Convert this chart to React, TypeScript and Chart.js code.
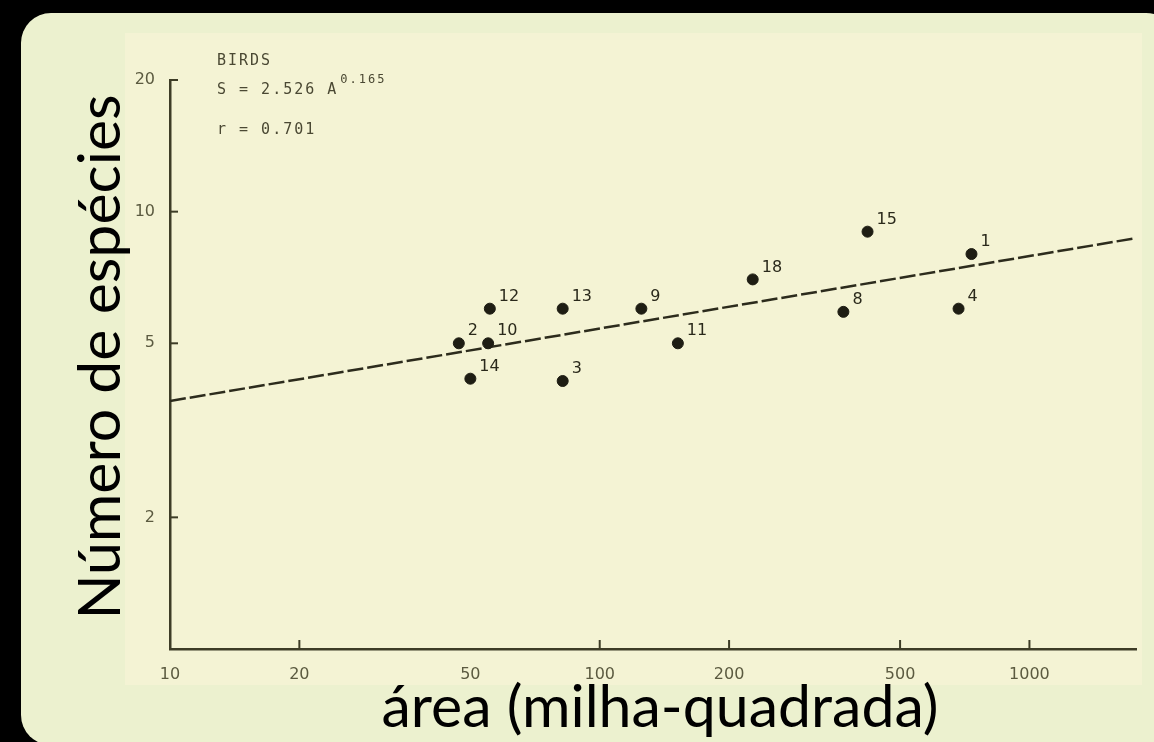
import React, { useEffect, useRef } from "react";
import { Chart, registerables } from "chart.js";

Chart.register(...registerables);

// ---- data ----
const islandLabels = ["2", "10", "12", "14", "13", "3", "9", "11", "18", "8", "15", "4", "1"];
const areaSqMi = [47, 55, 55.5, 50, 82, 82, 125, 152, 227, 369, 420, 684, 733];
const speciesCount = [5, 5, 6, 4.15, 6, 4.1, 6, 5, 7, 5.9, 9, 6, 8];

const fitArea = [10, 1770];
const fitSpecies = [3.69, 8.7];

const xTickLabels = [10, 20, 50, 100, 200, 500, 1000];
const xTickMarks = [20, 100, 200, 500, 1000];
const yTickLabels = [2, 5, 10, 20];

const annotationLines = ["BIRDS", "S = 2.526 A", "r = 0.701"];
const annotationExponent = "0.165";

const xTitle = "área (milha-quadrada)";
const yTitle = "Número de espécies";

const W = 1154;
const H = 742;
const INK = "#3d3c26";

function roundRect(ctx: CanvasRenderingContext2D, x: number, y: number, w: number, h: number, r: number) {
  ctx.beginPath();
  ctx.moveTo(x + r, y);
  ctx.lineTo(x + w - r, y);
  ctx.arcTo(x + w, y, x + w, y + r, r);
  ctx.lineTo(x + w, y + h - r);
  ctx.arcTo(x + w, y + h, x + w - r, y + h, r);
  ctx.lineTo(x + r, y + h);
  ctx.arcTo(x, y + h, x, y + h - r, r);
  ctx.lineTo(x, y + r);
  ctx.arcTo(x, y, x + r, y, r);
  ctx.closePath();
}

const backgroundPlugin = {
  id: "slideBackground",
  beforeDraw(chart: any) {
    const ctx = chart.ctx as CanvasRenderingContext2D;
    ctx.save();
    ctx.fillStyle = "#000000";
    ctx.fillRect(0, 0, W, H);
    ctx.fillStyle = "#ecf1cf";
    roundRect(ctx, 21, 13, W + 22 - 21, H + 3 - 13, 30);
    ctx.fill();
    ctx.fillStyle = "#f4f3d4";
    ctx.fillRect(125, 33, 1142 - 125, 685 - 33);
    ctx.restore();
  },
};

const decorPlugin = {
  id: "decor",
  afterDraw(chart: any) {
    const ctx = chart.ctx as CanvasRenderingContext2D;
    const xs = chart.scales.x;
    const ys = chart.scales.y;
    const area = chart.chartArea;
    ctx.save();
    // inward tick marks
    ctx.strokeStyle = INK;
    ctx.lineWidth = 2;
    yTickLabels.forEach((v) => {
      const py = ys.getPixelForValue(v);
      ctx.beginPath();
      ctx.moveTo(area.left, py);
      ctx.lineTo(area.left + 8, py);
      ctx.stroke();
    });
    xTickMarks.forEach((v) => {
      const px = xs.getPixelForValue(v);
      ctx.beginPath();
      ctx.moveTo(px, area.bottom);
      ctx.lineTo(px, area.bottom - 9);
      ctx.stroke();
    });

    // point labels
    const meta = chart.getDatasetMeta(0);
    ctx.fillStyle = "#2a291b";
    ctx.font = "16px 'DejaVu Sans'";
    ctx.textAlign = "left";
    ctx.textBaseline = "middle";
    meta.data.forEach((pt: any, i: number) => {
      ctx.fillText(islandLabels[i], pt.x + 9, pt.y - 12);
    });

    // annotation text block
    ctx.fillStyle = "#4a4833";
    ctx.font = "15px 'DejaVu Sans Mono'";
    (ctx as any).letterSpacing = "2px";
    ctx.textBaseline = "middle";
    const ax = 217;
    ctx.fillText(annotationLines[0], ax, 61);
    ctx.fillText(annotationLines[1], ax, 90);
    const w1 = ctx.measureText(annotationLines[1]).width;
    ctx.font = "12px 'DejaVu Sans Mono'";
    ctx.fillText(annotationExponent, ax + w1 + 2, 80);
    ctx.font = "15px 'DejaVu Sans Mono'";
    ctx.fillText(annotationLines[2], ax, 130);
    (ctx as any).letterSpacing = "0px";

    // axis titles
    ctx.fillStyle = "#000000";
    ctx.font = "59px Lato";
    ctx.textAlign = "center";
    ctx.textBaseline = "alphabetic";
    ctx.fillText(xTitle, 660, 727);
    ctx.save();
    ctx.translate(120, 357);
    ctx.rotate(-Math.PI / 2);
    ctx.fillText(yTitle, 0, 0);
    ctx.restore();

    ctx.restore();
  },
};

export default function App() {
  const ref = useRef<HTMLCanvasElement | null>(null);

  useEffect(() => {
    document.body.style.margin = "0";
    document.body.style.background = "#000";
    const canvas = ref.current;
    if (!canvas) return;
    const tickFont = { family: "'DejaVu Sans'", size: 16 };
    const chart = new Chart(canvas, {
      type: "scatter",
      data: {
        datasets: [
          {
            label: "islands",
            data: areaSqMi.map((a, i) => ({ x: a, y: speciesCount[i] })),
            backgroundColor: "#1e1d13",
            borderColor: "#1e1d13",
            pointRadius: 5.5,
            pointHoverRadius: 5.5,
            showLine: false,
          },
          {
            label: "fit",
            data: fitArea.map((a, i) => ({ x: a, y: fitSpecies[i] })),
            borderColor: "#2c2b1c",
            borderWidth: 2.5,
            borderDash: [16, 4],
            pointRadius: 0,
            showLine: true,
            fill: false,
          },
        ],
      },
      options: {
        responsive: false,
        animation: false,
        devicePixelRatio: 1,
        layout: { padding: { left: 0, top: 80, right: W - 1136, bottom: 0 } },
        plugins: { legend: { display: false }, tooltip: { enabled: false }, title: { display: false } },
        scales: {
          x: {
            type: "logarithmic",
            min: 10,
            max: 1770,
            grid: { display: false, drawTicks: false },
            border: { display: true, color: INK, width: 2.5 },
            ticks: {
              padding: 16,
              color: "#5b5a40",
              font: tickFont,
              maxRotation: 0,
              autoSkip: false,
              callback: (v: any) => String(v),
            },
            afterBuildTicks: (scale: any) => {
              scale.ticks = xTickLabels.map((v) => ({ value: v }));
            },
            afterFit: (scale: any) => {
              scale.height = H - 649;
            },
          },
          y: {
            type: "logarithmic",
            min: 1,
            max: 20,
            grid: { display: false, drawTicks: false },
            border: { display: true, color: INK, width: 2.5 },
            ticks: {
              padding: 15,
              color: "#5b5a40",
              font: tickFont,
              autoSkip: false,
              callback: (v: any) => String(v),
            },
            afterBuildTicks: (scale: any) => {
              scale.ticks = yTickLabels.map((v) => ({ value: v }));
            },
            afterFit: (scale: any) => {
              scale.width = 170;
            },
          },
        },
      },
      plugins: [backgroundPlugin, decorPlugin],
    });
    return () => chart.destroy();
  }, []);

  return <canvas ref={ref} width={W} height={H} style={{ display: "block", width: W, height: H }} />;
}
